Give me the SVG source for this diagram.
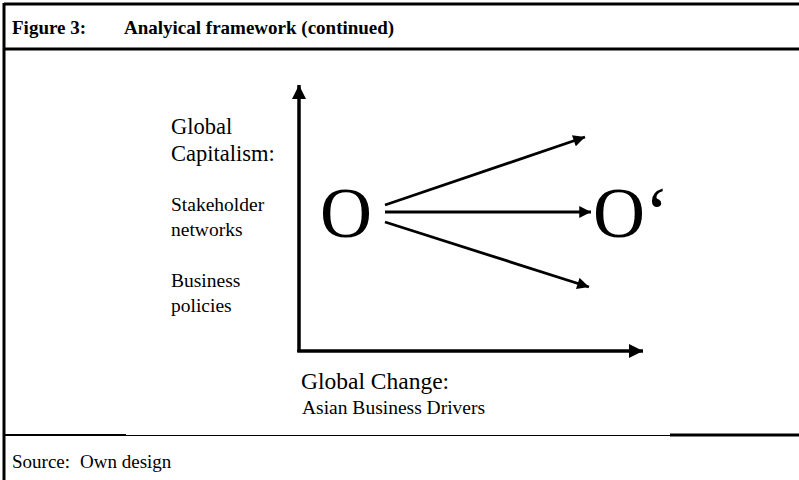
<svg xmlns="http://www.w3.org/2000/svg" width="799" height="480" viewBox="0 0 799 480">
<style>
text{font-family:"Liberation Serif","Times New Roman",serif;fill:#000}
.hd{font-weight:bold;font-size:19px}
.lg{font-size:22.5px}
.sm{font-size:19.5px}
.src{font-size:19px}
.big{font-size:72px}
.frame{stroke:#000;fill:none}
.ax{stroke:#000;stroke-width:3.5;fill:none}
.ar{stroke:#000;stroke-width:2.8;fill:none}
</style>
<defs>
<marker id="ah" viewBox="0 0 10 10" refX="10" refY="5" markerWidth="4.2" markerHeight="4" orient="auto" markerUnits="strokeWidth">
<path d="M0,0 L10,5 L0,10 Z" fill="#000"/>
</marker>
<marker id="ahs" viewBox="0 0 10 10" refX="10" refY="5" markerWidth="4.8" markerHeight="4.2" orient="auto" markerUnits="strokeWidth">
<path d="M0,0 L10,5 L0,10 Z" fill="#000"/>
</marker>
</defs>
<rect width="799" height="480" fill="#fff"/>
<g id="frame">
<line class="frame" x1="4" y1="4" x2="799" y2="4" stroke-width="3"/>
<line class="frame" x1="4" y1="3" x2="4" y2="480" stroke-width="3"/>
<line class="frame" x1="4" y1="49" x2="799" y2="49" stroke-width="3"/>
<line class="frame" x1="4" y1="435" x2="126" y2="435" stroke-width="2"/>
<line class="frame" x1="126" y1="435.5" x2="670" y2="435.5" stroke-width="1"/>
<line class="frame" x1="670" y1="435" x2="799" y2="435" stroke-width="3"/>
</g>
<g id="header">
<text class="hd" x="12" y="34">Figure 3:</text>
<text class="hd" x="124" y="34">Analyical framework (continued)</text>
</g>
<g id="connectors">
<line class="ax" x1="299" y1="352" x2="299" y2="85" marker-end="url(#ah)"/>
<line class="ax" x1="297.25" y1="351" x2="643" y2="351" marker-end="url(#ah)"/>
<line class="ar" x1="385" y1="205" x2="585" y2="137" marker-end="url(#ahs)"/>
<line class="ar" x1="385" y1="212" x2="591" y2="212" marker-end="url(#ahs)"/>
<line class="ar" x1="385" y1="222" x2="589" y2="287" marker-end="url(#ahs)"/>
</g>
<g id="node-O">
<text class="big" x="320" y="237">O</text>
</g>
<g id="node-O-prime">
<text class="big" x="593" y="237">O‘</text>
</g>
<g id="y-label">
<text class="lg" x="171" y="134">Global</text>
<text class="lg" x="171" y="161">Capitalism:</text>
<text class="sm" x="171" y="211">Stakeholder</text>
<text class="sm" x="171" y="236">networks</text>
<text class="sm" x="171" y="287">Business</text>
<text class="sm" x="171" y="312">policies</text>
</g>
<g id="x-label">
<text class="lg" x="301" y="389" style="font-size:23.5px">Global Change:</text>
<text class="sm" x="302" y="414">Asian Business Drivers</text>
</g>
<g id="source">
<text class="src" x="12" y="468">Source:</text>
<text class="src" x="80" y="468">Own design</text>
</g>
</svg>
